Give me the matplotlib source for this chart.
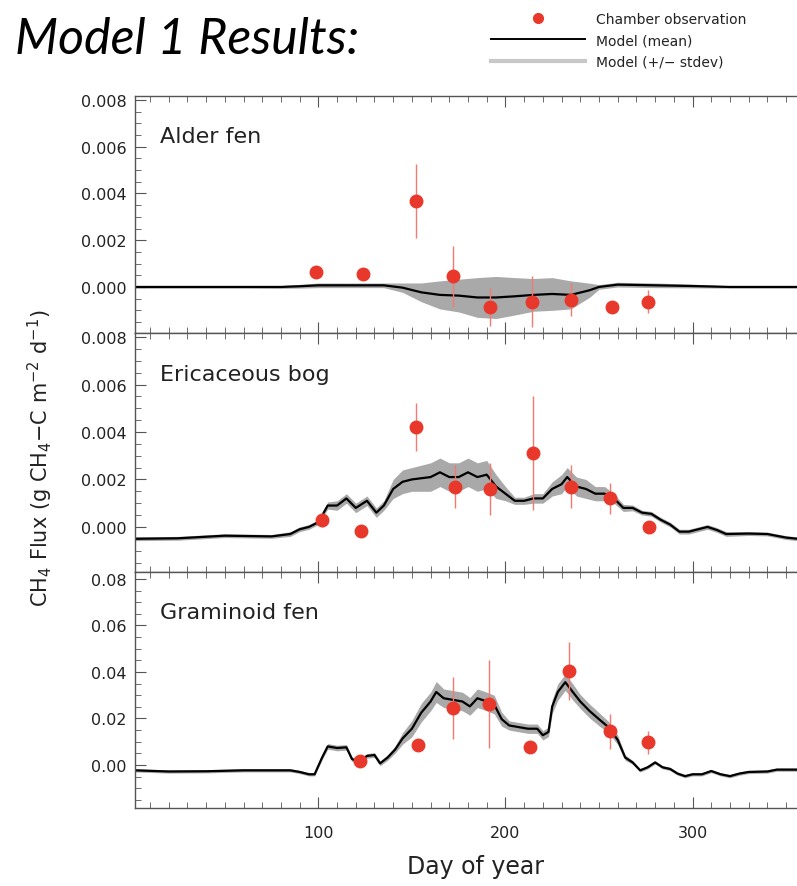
import matplotlib
matplotlib.use("Agg")
import matplotlib.pyplot as plt
from matplotlib.lines import Line2D
from matplotlib.ticker import MultipleLocator, FixedLocator

# ---- data ----
# Alder fen
alder_days = [2, 20, 40, 60, 80, 90, 100, 120, 135, 145, 155, 165, 175, 185, 195, 205, 215, 225, 235, 245, 250, 260, 280, 300, 320, 340, 366]
alder_mean = [0.0, 0.0, 0.0, 0.0, 0.0, 0.00003, 0.00007, 0.00007, 0.00007, -0.00003, -0.00023, -0.00034, -0.00037, -0.00045, -0.00045,
              -0.0004, -0.00034, -0.0003, -0.00034, -0.00014, 0.0, 0.0001, 0.00007, 0.00004, 0.0, 0.0, 0.0]
alder_std = [0.00005, 0.00005, 0.00005, 0.00005, 0.00006, 0.00008, 0.0001, 0.0001, 0.0001, 0.0002, 0.0004, 0.0006, 0.0007, 0.00085, 0.0009,
             0.0008, 0.0007, 0.0007, 0.0006, 0.0003, 0.0001, 0.0001, 0.0001, 0.00008, 0.00005, 0.00005, 0.00005]
alder_obs_day = [99, 124, 152, 172, 192, 214, 235, 257, 276]
alder_obs = [0.00066, 0.00055, 0.00368, 0.00046, -0.00086, -0.00063, -0.00054, -0.00084, -0.00063]
alder_obs_err = [0.00015, 0.00012, 0.00157, 0.0013, 0.0008, 0.0011, 0.0007, 0.0001, 0.0005]

# Ericaceous bog
eric_days = [2, 25, 50, 75, 85, 90, 95, 100, 105, 110, 115, 120, 126, 131, 135, 140, 145, 150, 160, 165, 170, 175, 180, 185, 190,
             195, 200, 205, 210, 215, 220, 225, 230, 233, 238, 243, 248, 253, 258, 263, 268, 273, 278, 283, 288, 293, 298, 303,
             308, 313, 318, 330, 340, 350, 366]
eric_mean = [-0.0005, -0.00048, -0.00037, -0.0004, -0.0003, -0.0001, 0.0, 0.0002, 0.0009, 0.0009, 0.0012, 0.0008, 0.0011, 0.0006,
             0.0009, 0.0016, 0.0019, 0.002, 0.0021, 0.0023, 0.0021, 0.0021, 0.0023, 0.0021, 0.0022, 0.0017, 0.0014, 0.0011, 0.0011,
             0.0012, 0.0012, 0.0016, 0.0018, 0.0021, 0.0017, 0.0016, 0.0014, 0.0014, 0.0012, 0.0008, 0.0008, 0.0006, 0.00055,
             0.0003, 0.0001, -0.0002, -0.0002, -0.0001, 0.0, -0.00013, -0.0003, -0.00028, -0.0003, -0.00045, -0.00058]
eric_std = [0.00008, 0.00008, 0.00008, 0.00008, 0.0001, 0.0001, 0.0001, 0.0001, 0.00015, 0.0002, 0.0002, 0.0002, 0.0002, 0.0002,
            0.0002, 0.0004, 0.0005, 0.0005, 0.0006, 0.0006, 0.0006, 0.0006, 0.0006, 0.0006, 0.0006, 0.0005, 0.0003, 0.00015,
            0.00015, 0.0002, 0.0002, 0.0003, 0.0004, 0.0004, 0.0004, 0.0004, 0.0003, 0.0003, 0.0002, 0.00015, 0.00012, 0.0001,
            0.0001, 0.0001, 0.0001, 0.0001, 0.0001, 0.0001, 0.0001, 0.0001, 0.0001, 0.00008, 0.00008, 0.00008, 0.00008]
eric_obs_day = [102, 123, 152, 173, 192, 215, 235, 256, 277]
eric_obs = [0.00029, -0.00018, 0.0042, 0.0017, 0.0016, 0.0031, 0.0017, 0.0012, 0.0]
eric_obs_err = [0.0003, 0.00025, 0.001, 0.00092, 0.0011, 0.0024, 0.00092, 0.00065, 0.0001]

# Graminoid fen
gram_days = [2, 20, 40, 60, 85, 90, 95, 98, 102, 105, 110, 115, 118, 122, 126, 130, 133, 137, 141, 145, 150, 155, 160, 163, 167,
             172, 177, 181, 185, 190, 194, 198, 202, 207, 212, 217, 220, 223, 225, 228, 232, 236, 240, 245, 250, 255, 260, 264,
             268, 272, 276, 280, 284, 288, 292, 296, 300, 305, 310, 315, 320, 325, 330, 340, 345, 366]
gram_mean = [-0.0023, -0.0028, -0.0027, -0.0023, -0.0023, -0.003, -0.004, -0.004, 0.0032, 0.008, 0.0073, 0.0076, 0.0025, 0.0014,
             0.0039, 0.0043, 0.0007, 0.0032, 0.0066, 0.0114, 0.0156, 0.0225, 0.0273, 0.0314, 0.0287, 0.028, 0.0273, 0.0252,
             0.0287, 0.0273, 0.026, 0.0197, 0.017, 0.0163, 0.0156, 0.0156, 0.0128, 0.0142, 0.0252, 0.0314, 0.0356, 0.0314,
             0.0273, 0.0232, 0.0197, 0.0163, 0.0108, 0.0032, 0.0011, -0.0023, -0.001, 0.0011, -0.001, -0.0017, -0.0037,
             -0.0048, -0.004, -0.004, -0.0026, -0.004, -0.0048, -0.0037, -0.003, -0.0028, -0.002, -0.002]
gram_std = [0.0007, 0.0007, 0.0007, 0.0007, 0.0007, 0.0007, 0.0007, 0.0007, 0.001, 0.0012, 0.0012, 0.0012, 0.001, 0.001, 0.001,
            0.001, 0.001, 0.0012, 0.0015, 0.0025, 0.0035, 0.004, 0.004, 0.0045, 0.004, 0.004, 0.004, 0.0038, 0.004, 0.004, 0.004,
            0.003, 0.002, 0.002, 0.002, 0.002, 0.002, 0.002, 0.003, 0.0035, 0.0035, 0.0035, 0.003, 0.003, 0.0028, 0.0025, 0.002,
            0.0012, 0.0008, 0.0007, 0.0007, 0.0007, 0.0007, 0.0007, 0.0007, 0.0007, 0.0007, 0.0007, 0.0007, 0.0007, 0.0007,
            0.0007, 0.0007, 0.0007, 0.0007, 0.0007]
gram_obs_day = [122, 153, 172, 191, 213, 234, 256, 276]
gram_obs = [0.0015, 0.0087, 0.0245, 0.0263, 0.0077, 0.0404, 0.0145, 0.0097]
gram_obs_err = [0.0005, 0.0006, 0.0133, 0.019, 0.0006, 0.0124, 0.0076, 0.0049]

panel_names = ["Alder fen", "Ericaceous bog", "Graminoid fen"]
y_ticks_small = [0.000, 0.002, 0.004, 0.006, 0.008]
y_ticks_large = [0.00, 0.02, 0.04, 0.06, 0.08]

RED = "#e8382b"
ERR = "#f27a70"
BAND = "#a9a9a9"
FRAME = "#555555"
TXT = "#222222"

fig = plt.figure(figsize=(7.97, 8.87), dpi=100)

W, H = 797.0, 887.0
left = 135 / W
width = 681 / W
# (top px, bottom px, ylim)
boxes = [(97, 334, (-0.00197, 0.00817)),
         (334, 573, (-0.0019, 0.00817)),
         (573, 809, (-0.0185, 0.083))]

series = [
    (alder_days, alder_mean, alder_std, alder_obs_day, alder_obs, alder_obs_err, y_ticks_small, "%.3f", 0.0005),
    (eric_days, eric_mean, eric_std, eric_obs_day, eric_obs, eric_obs_err, y_ticks_small, "%.3f", 0.0005),
    (gram_days, gram_mean, gram_std, gram_obs_day, gram_obs, gram_obs_err, y_ticks_large, "%.2f", 0.005),
]

axes = []
for i, ((top, bot, ylim), s, name) in enumerate(zip(boxes, series, panel_names)):
    days, mean, std, od, ov, oe, yt, fmt, yminor = s
    ax = fig.add_axes([left, 1 - bot / H, width, (bot - top) / H])
    lo = [m - e for m, e in zip(mean, std)]
    hi = [m + e for m, e in zip(mean, std)]
    ax.fill_between(days, lo, hi, color=BAND, lw=0, zorder=1)
    ax.plot(days, mean, color="black", lw=1.6, zorder=2)
    ax.errorbar(od, ov, yerr=oe, fmt="none", ecolor=ERR, elinewidth=1.0, capsize=0, zorder=3)
    ax.plot(od, ov, "o", color=RED, ms=9, mec=RED, zorder=4, clip_on=False)
    ax.set_xlim(2, 366)
    ax.set_ylim(*ylim)
    ax.yaxis.set_major_locator(FixedLocator(yt))
    ax.set_yticklabels([fmt % v for v in yt])
    ax.yaxis.set_minor_locator(MultipleLocator(yminor))
    ax.xaxis.set_major_locator(MultipleLocator(100))
    ax.xaxis.set_minor_locator(MultipleLocator(10))
    ax.tick_params(which="both", direction="in", top=True, right=True, colors=FRAME, labelcolor=TXT)
    ax.tick_params(axis="y", labelsize=11.5, pad=6)
    ax.tick_params(axis="x", labelsize=11.5, pad=12)
    ax.tick_params(which="major", length=8, width=0.8)
    ax.tick_params(which="minor", length=4, width=0.6)
    for sp in ax.spines.values():
        sp.set_color(FRAME)
        sp.set_linewidth(1.0)
    if i < 2:
        ax.set_xticklabels([])
    ax.text(0.037, 0.83, name, transform=ax.transAxes, fontsize=16, color=TXT,
            va="center", ha="left")
    axes.append(ax)

axes[2].set_xlabel("Day of year", fontsize=17, color=TXT, labelpad=10)
fig.text(40 / W, 1 - 458 / H, r"CH$_4$ Flux (g CH$_4$$-$C m$^{-2}$ d$^{-1}$)",
         rotation=90, fontsize=15, color=TXT, ha="center", va="center")

fig.text(15 / W, 1 - 40 / H, "Model 1 Results:", fontsize=36, style="italic",
         family="Lato", ha="left", va="center", color="black")

handles = [
    Line2D([], [], ls="none", marker="o", color=RED, ms=7),
    Line2D([], [], color="black", lw=1.4),
    Line2D([], [], color="#c8c8c8", lw=3),
]
labels = ["Chamber observation", "Model (mean)", "Model (+/\u2212 stdev)"]
fig.legend(handles, labels, loc="upper left", bbox_to_anchor=(478 / W, 1 - 0 / H),
           frameon=False, fontsize=10, handlelength=6.8, numpoints=1,
           labelspacing=0.55, handletextpad=0.8, labelcolor=TXT)

fig.savefig("out.png", dpi=100)
